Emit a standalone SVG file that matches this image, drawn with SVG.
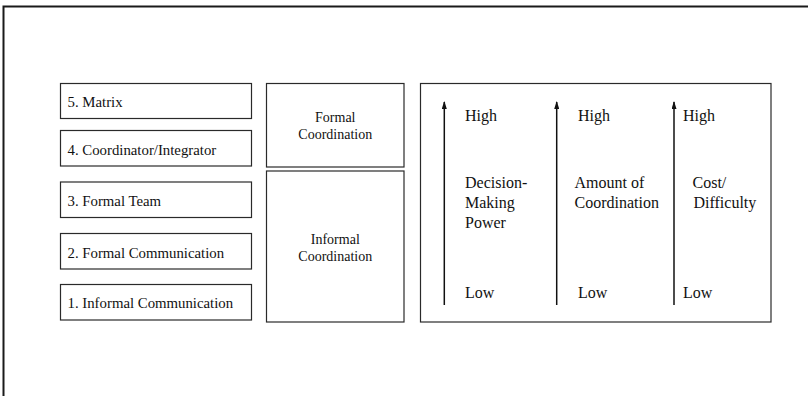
<svg xmlns="http://www.w3.org/2000/svg" width="808" height="396" viewBox="0 0 808 396">
  <style>
    .frame { fill: none; stroke: #1a1a1a; stroke-width: 2; }
    .box { fill: #ffffff; stroke: #2a2a2a; stroke-width: 1.2; }
    .lbl { font-family: "Liberation Serif", "Times New Roman", serif; fill: #111111; }
    .lvl { font-size: 14.8px; }
    .mid { font-size: 14px; text-anchor: middle; }
    .scale { font-size: 16px; }
    .axis { stroke: #111111; stroke-width: 1.5; fill: none; marker-end: url(#tip); }
  </style>
  <defs>
    <!-- arrowhead pointing along the line direction -->
    <marker id="tip" viewBox="0 0 8 5" refX="7" refY="2.5" markerWidth="8" markerHeight="5" markerUnits="userSpaceOnUse" orient="auto">
      <path d="M0,0 L8,2.5 L0,5 Z" fill="#111111"/>
    </marker>
  </defs>

  <rect width="808" height="396" fill="#ffffff"/>
  <!-- page frame running off the right and bottom edges -->
  <rect class="frame" x="3.5" y="6.5" width="900" height="500"/>

  <!-- coordination mechanisms, ranked -->
  <g id="level5">
    <rect class="box" x="60.5" y="83.5" width="191" height="35"/>
    <text class="lbl lvl" x="67.5" y="107.3">5. Matrix</text>
  </g>
  <g id="level4">
    <rect class="box" x="60.5" y="130.5" width="191" height="35.5"/>
    <text class="lbl lvl" x="67.5" y="154.5">4. Coordinator/Integrator</text>
  </g>
  <g id="level3">
    <rect class="box" x="60.5" y="182" width="191" height="35.5"/>
    <text class="lbl lvl" x="67.5" y="206">3. Formal Team</text>
  </g>
  <g id="level2">
    <rect class="box" x="60.5" y="233.5" width="191" height="35.5"/>
    <text class="lbl lvl" x="67.5" y="257.5">2. Formal Communication</text>
  </g>
  <g id="level1">
    <rect class="box" x="60.5" y="284.5" width="191" height="35.5"/>
    <text class="lbl lvl" x="67.5" y="308.3">1. Informal Communication</text>
  </g>

  <!-- grouping of the mechanisms -->
  <g id="formal">
    <rect class="box" x="266.5" y="83.5" width="137.5" height="83.5"/>
    <text class="lbl mid" x="335.3" y="121.7">Formal</text>
    <text class="lbl mid" x="335.3" y="138.5">Coordination</text>
  </g>
  <g id="informal">
    <rect class="box" x="266.5" y="171" width="137.5" height="151"/>
    <text class="lbl mid" x="335.3" y="244.3">Informal</text>
    <text class="lbl mid" x="335.3" y="261">Coordination</text>
  </g>

  <!-- scales -->
  <g id="scales">
    <rect class="box" x="420.5" y="83.5" width="350.5" height="238.5"/>
    <text class="lbl scale" x="465" y="121">High</text>
    <text class="lbl scale" x="465" y="188.3">Decision-</text>
    <text class="lbl scale" x="465" y="208">Making</text>
    <text class="lbl scale" x="465" y="227.5">Power</text>
    <text class="lbl scale" x="465" y="297.5">Low</text>

    <text class="lbl scale" x="578" y="121">High</text>
    <text class="lbl scale" x="574.5" y="187.5">Amount of</text>
    <text class="lbl scale" x="574.5" y="207.5">Coordination</text>
    <text class="lbl scale" x="578" y="297.5">Low</text>

    <text class="lbl scale" x="683" y="121">High</text>
    <text class="lbl scale" x="692.5" y="187.5">Cost/</text>
    <text class="lbl scale" x="693.5" y="207.5">Difficulty</text>
    <text class="lbl scale" x="683" y="297.5">Low</text>
  </g>

  <g id="connectors">
    <line class="axis" x1="444.3" y1="305" x2="444.3" y2="102"/>
    <line class="axis" x1="556.7" y1="305" x2="556.7" y2="102"/>
    <line class="axis" x1="674" y1="305" x2="674" y2="102"/>
  </g>
</svg>
